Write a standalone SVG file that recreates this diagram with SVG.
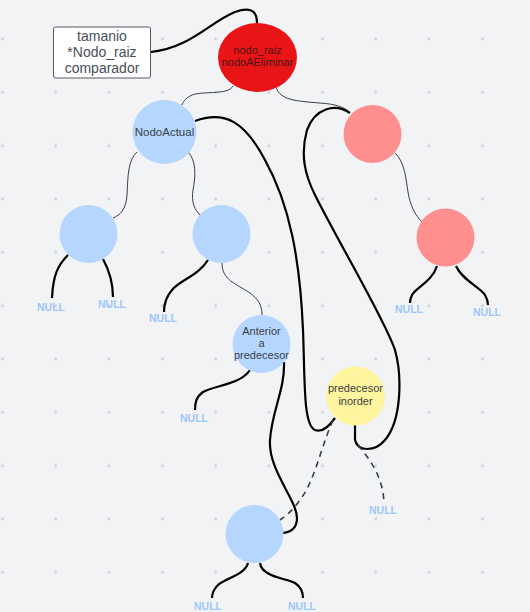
<svg xmlns="http://www.w3.org/2000/svg" width="530" height="612" viewBox="0 0 530 612">
<defs>
<pattern id="grid" x="2.4" y="-14.3" width="53.33" height="53.33" patternUnits="userSpaceOnUse">
<path d="M-1.5,0 H1.5 M0,-1.5 V1.5" stroke="#b8bcc4" stroke-width="0.8"/>
<path d="M51.83,0 H54.83 M53.33,-1.5 V1.5 M-1.5,53.33 H1.5 M0,51.83 V54.83 M51.83,53.33 H54.83 M53.33,51.83 V54.83" stroke="#b8bcc4" stroke-width="0.8"/>
</pattern>
<style>
.thin{fill:none;stroke:#3a3d44;stroke-width:1}
.thick{fill:none;stroke:#000;stroke-width:2.2}
.dash{fill:none;stroke:#3a3d44;stroke-width:1.6;stroke-dasharray:6 5}
.blue{fill:#b5d6fe}
.pink{fill:#ff8f8f}
.lbl{font-family:"Liberation Sans",Arial,sans-serif;font-size:11px;fill:#3c3f46;text-anchor:middle}
.null{font-family:"Liberation Sans",Arial,sans-serif;font-size:10.5px;font-weight:bold;fill:#9fc6fb;text-anchor:middle}
</style>
</defs>
<rect width="530" height="612" fill="#f2f3f5"/>
<rect width="530" height="612" fill="url(#grid)"/>

<g id="connectors">
<path class="thick" d="M151,52 C190,48 210,22 235,12 C252,6 257,12 257,23"/>
<path class="thin" d="M233,86 C228,96 200,90 190,96 C185,99 183,102 182,105"/>
<path class="thin" d="M276,87 C280,100 295,101 320,103 C335,104 345,107 350,113"/>
<path class="thin" d="M137,152 C128,160 128,175 127,195 C126,210 120,215 113,218"/>
<path class="thin" d="M188,152 C196,160 196,175 193,190 C191,203 195,210 200,215"/>
<path class="thin" d="M222,263 C222,280 235,283 250,293 C258,299 262,305 262,315"/>
<path class="thin" d="M395,153 C405,162 406,180 408,192 C410,205 415,215 422,222"/>
<path class="thick" d="M68,255 C58,265 53,275 52,298"/>
<path class="thick" d="M103,259 C110,272 113,283 113,297"/>
<path class="thick" d="M208,260 C198,276 180,280 172,290 C165,298 164,305 164,312"/>
<path class="thick" d="M250,370 C240,385 215,385 203,392 C196,397 195,403 195,410"/>
<path class="thick" d="M284,362 C285,390 272,410 270,440 C268,470 297,500 297,518 C297,528 292,532 283,533"/>
<path class="thick" d="M195,121 C225,110 245,122 265,160 C290,205 300,260 303,330 C305,380 303,425 315,430 C322,433 330,425 335,418"/>
<path class="thick" d="M350,113 C335,103 315,108 307,130 C300,155 305,175 315,195 C340,245 385,320 395,350 C402,375 402,420 385,440 C375,452 358,452 355,440 C355,435 355,430 355,425"/>
<path class="dash" d="M358,445 C372,462 383,478 384,503"/>
<path class="dash" d="M333,420 C320,450 315,480 300,500 C293,510 287,515 280,520"/>
<path class="thick" d="M248,563 C245,575 225,578 218,585 C213,590 212,594 212,598"/>
<path class="thick" d="M260,563 C262,577 285,578 295,583 C301,587 303,592 303,598"/>
<path class="thick" d="M437,266 C432,282 415,288 412,295 C410,299 410,301 410,303"/>
<path class="thick" d="M456,266 C462,280 480,287 485,295 C488,300 488,303 488,305"/>
</g>

<g id="info">
<rect x="53.5" y="27" width="97" height="51" rx="2" fill="#fff" stroke="#555a63" stroke-width="1"/>
<text font-family="'Liberation Sans',Arial,sans-serif" font-size="14" fill="#4a4f58" text-anchor="middle">
<tspan x="102" y="41">tamanio</tspan><tspan x="102" y="57">*Nodo_raiz</tspan><tspan x="102" y="73">comparador</tspan></text>
</g>
<g id="raiz">
<ellipse cx="257.5" cy="57.5" rx="39.5" ry="34.5" fill="#e81416"/>
<text class="lbl" style="fill:#4a1416"><tspan x="257.5" y="54">nodo_raiz</tspan><tspan x="257.5" y="66">nodoAEliminar</tspan></text>
</g>
<g id="nodoActual">
<circle cx="164.5" cy="132" r="32" class="blue"/>
<text class="lbl" x="164.5" y="136" style="font-size:11.5px">NodoActual</text>
</g>
<g id="pinkTop"><circle cx="372.5" cy="134" r="29" class="pink"/></g>
<g id="leftChild"><circle cx="88.5" cy="234" r="29" class="blue"/></g>
<g id="midChild"><circle cx="221.5" cy="234" r="29" class="blue"/></g>
<g id="pinkChild"><circle cx="445.5" cy="237.5" r="29" class="pink"/></g>
<g id="anterior">
<circle cx="261.5" cy="344" r="29" class="blue"/>
<text class="lbl"><tspan x="261.5" y="335">Anterior</tspan><tspan x="261.5" y="347">a</tspan><tspan x="261.5" y="359">predecesor</tspan></text>
</g>
<g id="predecesor">
<circle cx="355.5" cy="396" r="29.5" fill="#fef59e"/>
<text class="lbl"><tspan x="355.5" y="392">predecesor</tspan><tspan x="355.5" y="405">inorder</tspan></text>
</g>
<g id="bottomNode"><circle cx="254.5" cy="534" r="29" class="blue"/></g>

<g id="nulls">
<text class="null" x="51" y="311">NULL</text>
<text class="null" x="112" y="308">NULL</text>
<text class="null" x="163" y="322">NULL</text>
<text class="null" x="194" y="422">NULL</text>
<text class="null" x="383" y="514">NULL</text>
<text class="null" x="208" y="610">NULL</text>
<text class="null" x="302" y="610">NULL</text>
<text class="null" x="409" y="313">NULL</text>
<text class="null" x="487" y="316">NULL</text>
</g>
</svg>
